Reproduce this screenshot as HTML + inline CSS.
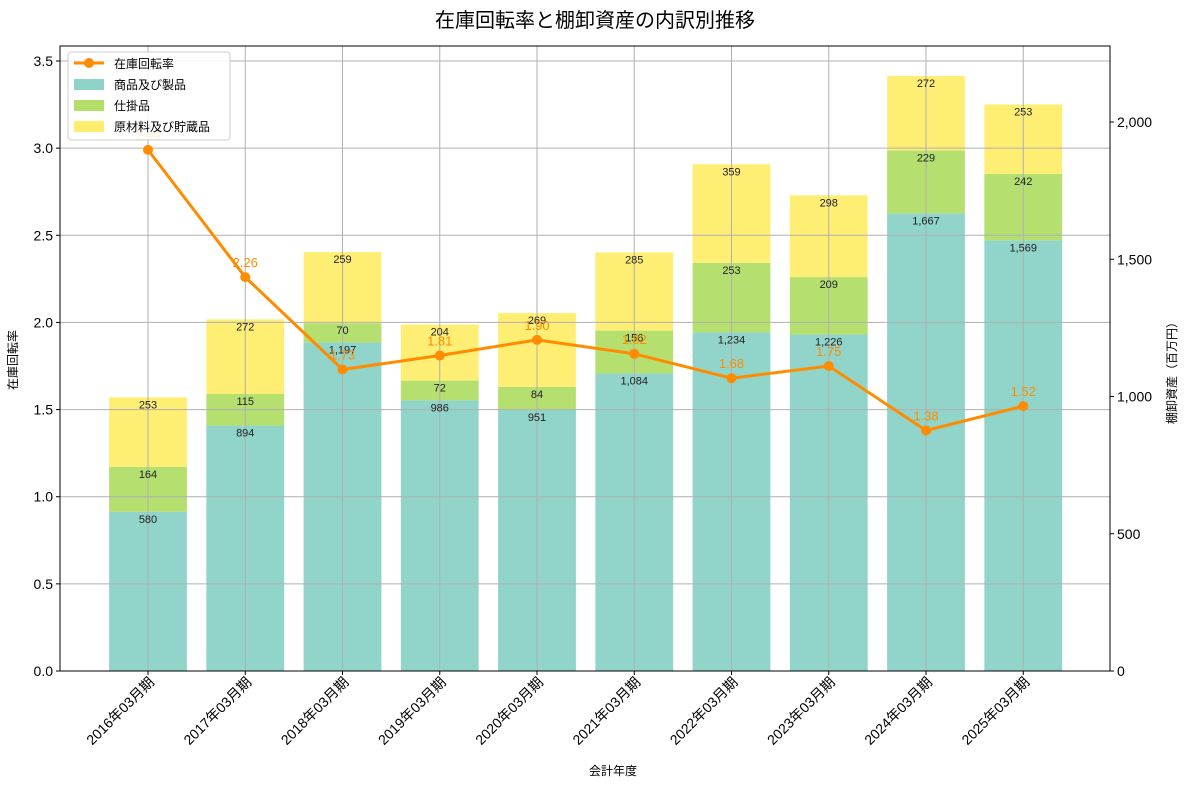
<!DOCTYPE html>
<html><head><meta charset="utf-8"><style>
body{margin:0;background:#fff;}
svg text{font-family:"Liberation Sans","Noto Sans CJK JP",sans-serif;}
</style></head><body>
<svg id="c" width="1190" height="789" xmlns="http://www.w3.org/2000/svg"></svg>
<script>
const categories=["2016年03月期","2017年03月期","2018年03月期","2019年03月期","2020年03月期","2021年03月期","2022年03月期","2023年03月期","2024年03月期","2025年03月期"];
const products=[580,894,1197,986,951,1084,1234,1226,1667,1569];
const wip=[164,115,70,72,84,156,253,209,229,242];
const materials=[253,272,259,204,269,285,359,298,272,253];
const turnover=[2.99,2.26,1.73,1.81,1.90,1.82,1.68,1.75,1.38,1.52];
const leftTicks=[0,0.5,1.0,1.5,2.0,2.5,3.0,3.5];
const rightTicks=[0,500,1000,1500,2000];

const NS="http://www.w3.org/2000/svg";
const svg=document.getElementById('c');
const L=60,R=1110,T=46,B=671;
const xs=i=>148+97.25*i;
const yl=v=>B-v*(B-61)/3.5;
const yr=v=>B-v*(B-122)/2000;
function mk(tag,attrs,parent){const e=document.createElementNS(NS,tag);for(const k in attrs)e.setAttribute(k,attrs[k]);(parent||svg).appendChild(e);return e;}
function tx(x,y,s,attrs){const e=mk('text',Object.assign({x:x,y:y},attrs));e.textContent=s;return e;}

const cols=["#8dd3c7","#b3de69","#ffed6f"];
const series=[products,wip,materials];
const sNames=["products","wip","materials"];
const bw=77.8;
categories.forEach((c,i)=>{
  let base=0;
  series.forEach((s,k)=>{
    const y0=yr(base),y1=yr(base+s[i]);
    const r=mk('rect',{x:xs(i)-bw/2,y:y1,width:bw,height:y0-y1,fill:cols[k],opacity:0.97});
    
    
    base+=s[i];
  });
});
categories.forEach((c,i)=>{const g=mk('line',{x1:xs(i),x2:xs(i),y1:T,y2:B,stroke:'#b0b0b0','stroke-width':1});
});
leftTicks.forEach(v=>{const g=mk('line',{x1:L,x2:R,y1:yl(v),y2:yl(v),stroke:'#b0b0b0','stroke-width':1});
});
categories.forEach((c,i)=>{
  let base=0;
  series.forEach((s,k)=>{
    base+=s[i];
    const t=tx(xs(i),yr(base)+11,s[i].toLocaleString('en-US'),{'font-size':11,'text-anchor':'middle',fill:'#222'});
    
  });
});
const pts=turnover.map((v,i)=>xs(i)+','+yl(v)).join(' ');
const pl=mk('polyline',{points:pts,fill:'none',stroke:'#ff8c00','stroke-width':3});

turnover.forEach((v,i)=>{
  const p=mk('circle',{cx:xs(i),cy:yl(v),r:5,fill:'#ff8c00'});
  
  const t=tx(xs(i),yl(v)-10,v.toFixed(2),{'font-size':13,'text-anchor':'middle',fill:'#ff8c00'});
  
});
const fr=mk('rect',{x:L,y:T,width:R-L,height:B-T,fill:'none',stroke:'#000','stroke-width':1});

leftTicks.forEach(v=>{mk('line',{x1:L-4,x2:L,y1:yl(v),y2:yl(v),stroke:'#000'});
const t=tx(L-7,yl(v)+5,v.toFixed(1),{'font-size':14,'text-anchor':'end'});
});
rightTicks.forEach(v=>{mk('line',{x1:R,x2:R+4,y1:yr(v),y2:yr(v),stroke:'#000'});
const t=tx(R+7,yr(v)+5,v.toLocaleString('en-US'),{'font-size':14,'text-anchor':'start'});
});
categories.forEach((c,i)=>{mk('line',{x1:xs(i),x2:xs(i),y1:B,y2:B+4,stroke:'#000'});
const t=tx(xs(i)+7,B+12,c,{'font-size':14,'text-anchor':'end',transform:`rotate(-45 ${xs(i)+7} ${B+12})`});
});
</script>
<svg width="1190" height="789" style="position:absolute;left:0;top:0" xmlns="http://www.w3.org/2000/svg">
<text x="595" y="27" font-size="20" text-anchor="middle">在庫回転率と棚卸資産の内訳別推移</text>
<text x="613" y="775" font-size="12" text-anchor="middle">会計年度</text>
<text x="17" y="360" font-size="12" text-anchor="middle" transform="rotate(-90 17 360)">在庫回転率</text>
<text x="1176" y="370" font-size="12" text-anchor="middle" transform="rotate(-90 1176 370)">棚卸資産（百万円）</text>
<g>
<rect x="68" y="52" width="162" height="88" fill="#fff" fill-opacity="0.85" stroke="#ccc" rx="3"/>
<line x1="74" y1="63" x2="104" y2="63" stroke="#ff8c00" stroke-width="3"/><circle cx="89" cy="63" r="5" fill="#ff8c00"/>
<text x="114" y="68" font-size="12">在庫回転率</text>
<rect x="74" y="79" width="30" height="11" fill="#8dd3c7"/><text x="114" y="89" font-size="12">商品及び製品</text>
<rect x="74" y="100" width="30" height="11" fill="#b3de69"/><text x="114" y="110" font-size="12">仕掛品</text>
<rect x="74" y="121" width="30" height="11" fill="#ffed6f"/><text x="114" y="131" font-size="12">原材料及び貯蔵品</text>
</g>
</svg>
</body></html>
